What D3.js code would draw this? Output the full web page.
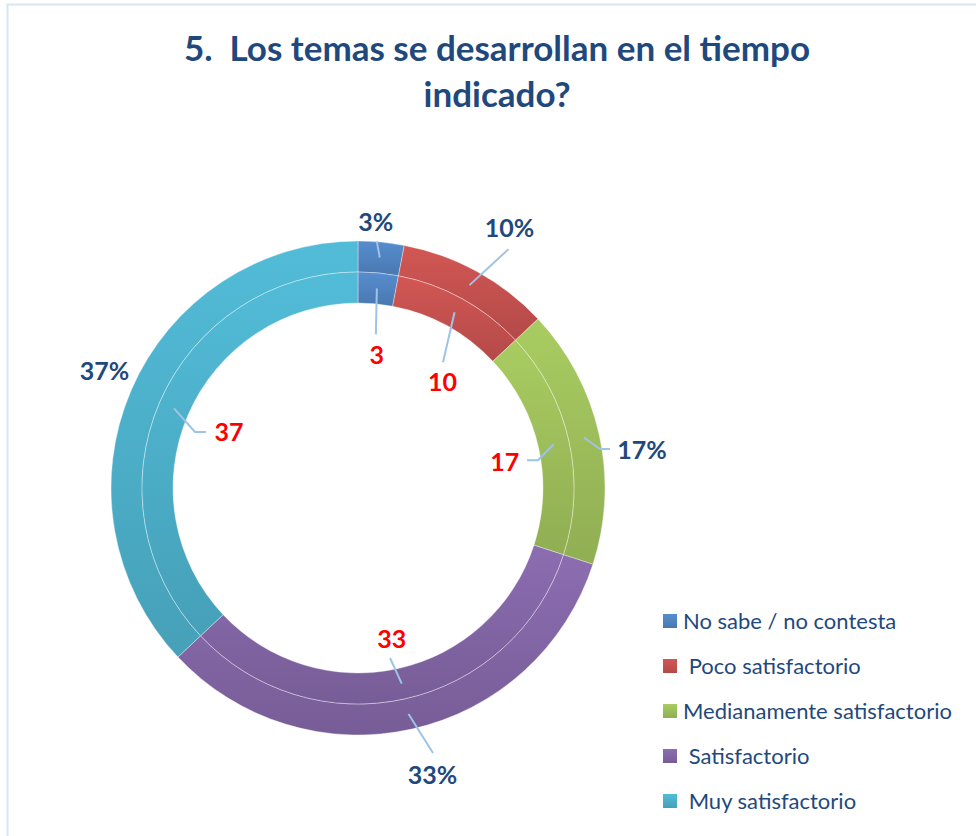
<!DOCTYPE html>
<html>
<head>
<meta charset="utf-8">
<script src="https://cdn.jsdelivr.net/npm/d3@7"></script>
<style>
  body { margin: 0; background: #fff; }
  text { font-family: Lato, "Open Sans", sans-serif; }
</style>
</head>
<body>
<div class="svg-container"></div>
<script>
// chart data
let titleLines = ["5.  Los temas se desarrollan en el tiempo", "indicado?"];
let categories = ["No sabe / no contesta", " Poco satisfactorio", "Medianamente satisfactorio", " Satisfactorio", " Muy satisfactorio"];
let percentValues = [3, 10, 17, 33, 37];   // outer ring, shown as %
let countValues = [3, 10, 17, 33, 37];     // inner ring, shown as counts
let baseColors = ["#4F81BD", "#C0504D", "#9BBB59", "#8064A2", "#4BACC6"];

// layout
let width = 976;
let height = 836;
let cx = 358, cy = 488;
let outerR = 247, midR = 216, innerR = 185;

// label placement, offsets from each slice centroid (hand tuned against the reference)
let outerLabelOffsets = [[-4, -36], [40, -57], [58, 12], [24, 61], [-41, -25]];
let outerLeaderPoints = [[[-3, -16]], [[39, -36]], [[16, 11.5], [26, 11.5]], [[24.5, 39]], []];
let innerLabelOffsets = [[0, 67], [-12, 70], [-49, 18], [-10, -45], [55, 24]];
let innerLeaderPoints = [[[-1, 46]], [[-11.6, 50]], [[-15.7, 16], [-26.7, 16]], [[-11.7, -25.7]], [[21, 23.6], [32, 23.6]]];

let svg = d3.select(".svg-container")
    .append("svg")
    .attr("width", width)
    .attr("height", height);

// light frame of the chart area
svg.append("rect")
    .attr("x", 7.5).attr("y", 4.5)
    .attr("width", 1000).attr("height", 1000)
    .attr("fill", "none")
    .attr("stroke", "#D9E5F3")
    .attr("stroke-width", 2);

let defs = svg.append("defs");
baseColors.forEach(function(c, i) {
    let g = defs.append("linearGradient")
        .attr("id", "grad" + i)
        .attr("x1", 0).attr("y1", 0).attr("x2", 0).attr("y2", 1);
    g.append("stop").attr("offset", "0%").attr("stop-color", d3.color(c).brighter(0.25));
    g.append("stop").attr("offset", "100%").attr("stop-color", d3.color(c).darker(0.2));
});

// title
svg.append("g")
    .selectAll("text")
    .data(titleLines)
    .enter()
    .append("text")
    .attr("x", 497)
    .attr("y", function(d, i) { return 61 + i * 46; })
    .attr("text-anchor", "middle")
    .attr("font-size", 35)
    .attr("font-weight", "bold")
    .attr("fill", "#1F497D")
    .style("white-space", "pre")
    .text(function(d) { return d; });

let pie = d3.pie().sort(null).value(function(d) { return d; });
let outerArc = d3.arc().innerRadius(midR).outerRadius(outerR);
let innerArc = d3.arc().innerRadius(innerR).outerRadius(midR);

let chart = svg.append("g").attr("transform", "translate(" + cx + "," + cy + ")");

function drawRing(values, arc, labelOffsets, leaderPoints, fmt, labelColor)
{
    let arcs = pie(values);
    let ring = chart.append("g");

    ring.selectAll("path")
        .data(arcs)
        .enter()
        .append("path")
        .attr("d", arc)
        .attr("fill", function(d, i) { return "url(#grad" + i + ")"; })
        .attr("stroke", "rgba(255,255,255,0.45)")
        .attr("stroke-width", 0.8);

    ring.selectAll("polyline")
        .data(arcs.filter(function(d, i) { return leaderPoints[i].length > 0; }))
        .enter()
        .append("polyline")
        .attr("points", function(d) {
            let c = arc.centroid(d);
            let pts = [c].concat(leaderPoints[d.index].map(function(p) { return [c[0] + p[0], c[1] + p[1]]; }));
            return pts.map(function(p) { return p.join(","); }).join(" ");
        })
        .attr("fill", "none")
        .attr("stroke", "#9DC3E6")
        .attr("stroke-width", 2);

    ring.selectAll("text")
        .data(arcs)
        .enter()
        .append("text")
        .attr("x", function(d) { return arc.centroid(d)[0] + labelOffsets[d.index][0]; })
        .attr("y", function(d) { return arc.centroid(d)[1] + labelOffsets[d.index][1]; })
        .attr("dy", "0.36em")
        .attr("text-anchor", "middle")
        .attr("font-size", 25)
        .attr("font-weight", "bold")
        .attr("fill", labelColor)
        .text(function(d) { return fmt(d.data); });
}

drawRing(percentValues, outerArc, outerLabelOffsets, outerLeaderPoints, function(v) { return v + "%"; }, "#1F497D");
drawRing(countValues, innerArc, innerLabelOffsets, innerLeaderPoints, function(v) { return v; }, "#FF0000");

// legend
let legend = svg.append("g").attr("transform", "translate(663,621)");
let item = legend.selectAll("g")
    .data(categories)
    .enter()
    .append("g")
    .attr("transform", function(d, i) { return "translate(0," + i * 45 + ")"; });

item.append("rect")
    .attr("x", 0).attr("y", -7)
    .attr("width", 14).attr("height", 14)
    .attr("fill", function(d, i) { return "url(#grad" + i + ")"; });

item.append("text")
    .attr("x", 20)
    .attr("dy", "0.36em")
    .attr("font-size", 22)
    .attr("fill", "#1F497D")
    .style("white-space", "pre")
    .text(function(d) { return d; });
</script>
</body>
</html>
